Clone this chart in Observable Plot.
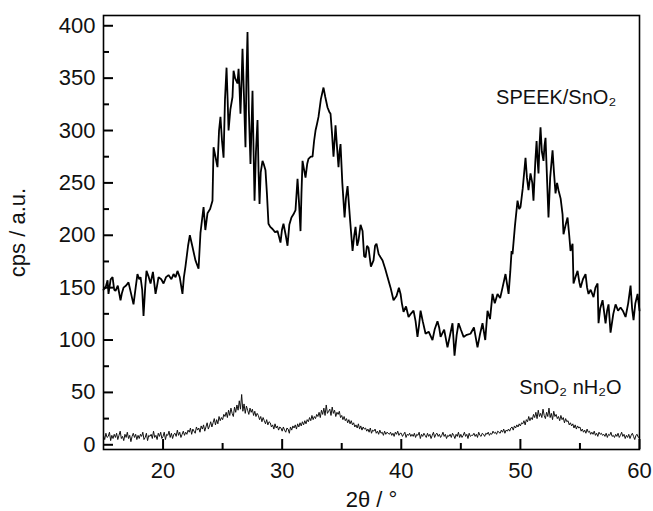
<!DOCTYPE html>
<html>
<head>
<meta charset="utf-8">
<script src="https://cdn.jsdelivr.net/npm/d3@7"></script>
<script src="https://cdn.jsdelivr.net/npm/@observablehq/plot@0.6"></script>
<style>
  html, body { margin: 0; padding: 0; background: #fff; }
  #chart svg { display: block; }
</style>
</head>
<body>
<div id="chart"></div>
<script>
// Upper trace: SPEEK/SnO2 (2θ, cps)
const speekX = [15.00,15.17,15.34,15.42,15.60,15.76,15.90,16.01,16.20,16.43,16.55,16.68,16.90,17.10,17.30,17.52,17.70,17.85,18.00,18.11,18.25,18.36,18.50,18.61,18.80,18.95,19.15,19.37,19.50,19.62,19.85,20.04,20.25,20.46,20.70,20.88,21.05,21.21,21.40,21.63,21.75,21.88,22.10,22.25,22.45,22.72,22.98,23.14,23.40,23.55,23.73,23.95,24.15,24.24,24.40,24.57,24.70,24.82,24.95,25.08,25.20,25.33,25.42,25.50,25.65,25.83,25.92,26.05,26.25,26.34,26.42,26.50,26.60,26.67,26.80,26.92,27.00,27.09,27.20,27.34,27.42,27.51,27.60,27.68,27.80,27.93,28.02,28.10,28.20,28.35,28.45,28.60,28.72,28.85,29.00,29.19,29.40,29.61,29.75,29.86,29.98,30.11,30.30,30.45,30.60,30.78,30.95,31.12,31.29,31.42,31.54,31.62,31.71,31.85,31.96,32.10,32.21,32.40,32.55,32.68,32.80,32.92,33.05,33.25,33.47,33.62,33.81,33.95,34.06,34.18,34.31,34.40,34.48,34.60,34.73,34.82,34.90,35.05,35.24,35.35,35.49,35.70,35.91,36.05,36.16,36.30,36.41,36.58,36.75,36.88,37.00,37.12,37.25,37.45,37.67,37.80,37.92,38.10,38.26,38.43,38.65,38.85,39.10,39.35,39.60,39.80,39.94,40.05,40.19,40.40,40.61,40.80,41.03,41.20,41.36,41.50,41.62,41.80,42.04,42.30,42.62,42.80,43.04,43.18,43.30,43.60,43.88,44.10,44.30,44.47,44.65,44.81,45.00,45.23,45.50,45.81,46.10,46.40,46.60,46.82,47.05,47.24,47.45,47.66,47.85,48.08,48.30,48.50,48.75,49.01,49.15,49.26,49.34,49.55,49.76,49.90,50.01,50.20,50.43,50.55,50.68,50.85,51.00,51.10,51.25,51.36,51.45,51.52,51.60,51.69,51.80,51.94,52.02,52.11,52.25,52.36,52.50,52.70,52.82,52.95,53.08,53.20,53.38,53.54,53.62,53.80,53.96,54.10,54.21,54.38,54.46,54.62,54.80,54.95,55.05,55.25,55.47,55.60,55.72,55.90,56.14,56.30,56.48,56.56,56.70,56.90,57.05,57.15,57.28,57.40,57.57,57.80,57.99,58.20,58.41,58.60,58.83,59.05,59.25,59.38,59.50,59.65,59.84,60.00];
const speekY = [148,150,157,144,158,160,148,147,152,138,145,150,152,155,145,134,150,163,158,160,148,123,150,166,160,154,165,144,152,160,158,154,160,162,158,163,160,166,160,144,160,170,190,200,190,176,168,202,227,205,221,225,233,284,275,265,300,313,290,274,330,360,330,300,320,332,357,350,345,359,340,316,350,378,330,284,350,394,320,268,300,338,280,233,280,310,260,230,260,271,268,262,240,211,208,206,203,204,198,193,205,211,200,190,210,217,220,224,254,230,204,240,271,262,255,268,273,275,275,290,300,306,313,330,341,332,322,318,316,298,275,290,305,285,265,280,287,250,217,235,247,215,185,200,208,190,195,210,204,180,179,190,188,170,176,190,192,182,179,176,168,160,150,138,142,150,144,135,127,132,122,125,128,118,103,115,128,118,106,108,100,110,118,112,103,110,93,105,116,85,105,116,110,103,105,106,112,93,105,116,100,128,120,144,135,144,140,150,163,144,165,185,182,210,233,225,227,245,274,255,243,259,250,233,270,290,270,259,285,303,280,271,285,293,250,217,255,281,260,240,250,243,235,220,201,210,217,200,185,192,154,160,166,155,150,158,163,150,144,148,141,150,154,116,130,138,125,116,128,134,107,125,134,128,131,128,122,135,152,130,119,135,144,128];

// Lower trace: SnO2 nH2O, sampled every 0.1° from 15° to 60°
const hydrateStart = 15, hydrateStep = 0.1;
const hydrateY = [
  9,5,11,7,8,12,4,9,6,10,
  7,11,5,9,13,6,8,4,10,7,
  12,6,9,3,8,11,7,10,5,9,
  6,10,8,12,5,7,11,4,9,8,
  10,6,13,7,9,5,11,8,12,6,
  8,12,5,10,9,13,7,11,6,10,
  11,8,14,9,12,7,10,13,9,12,
  10,14,12,16,10,15,13,11,17,14,
  16,12,18,15,19,13,17,21,15,18,
  22,17,21,25,19,24,20,27,23,26,
  24,29,27,31,26,33,28,35,30,27,
  36,31,38,33,42,34,48,32,39,30,
  37,33,29,35,31,34,28,32,27,30,
  28,24,27,22,26,23,20,24,19,22,
  21,17,19,15,20,16,18,14,17,16,
  13,17,14,12,16,15,11,17,14,18,
  16,19,15,20,17,21,18,22,19,23,
  20,24,22,26,23,28,24,27,25,29,
  27,31,26,33,29,35,28,38,30,32,
  34,28,36,30,33,27,31,29,32,26,
  28,24,27,23,25,21,24,20,23,19,
  21,17,19,16,20,15,18,14,17,15,
  16,13,15,12,16,11,14,13,15,11,
  13,10,14,11,12,9,13,10,12,11,
  10,12,9,11,8,12,10,13,9,11,
  11,8,10,12,7,10,9,11,8,10,
  8,11,7,10,9,12,6,10,8,11,
  9,7,11,8,10,6,9,12,7,10,
  11,8,10,7,9,12,8,10,6,9,
  8,10,7,11,9,6,10,8,12,7,
  10,7,9,12,8,10,6,11,8,9,
  9,11,8,10,7,12,9,8,11,10,
  8,11,10,12,9,11,10,13,11,12,
  10,13,12,11,14,12,15,11,14,13,
  15,13,16,17,14,18,16,19,17,20,
  18,21,20,23,19,24,22,27,23,26,
  24,29,26,31,25,33,27,30,26,34,
  28,25,31,27,35,26,30,24,32,27,
  29,25,27,23,28,24,26,21,25,22,
  23,19,21,18,20,16,19,15,18,16,
  17,13,15,12,14,11,15,12,13,10,
  12,10,13,9,11,8,12,10,11,9,
  10,8,11,7,10,9,12,8,9,7,
  10,8,11,7,9,12,8,10,6,9,
  7,10,6,9,11,8,5,9,10,7,
  8
];

const xTicks = [20, 30, 40, 50, 60];
const xMinorTicks = [25, 35, 45, 55];
const yTicks = [0, 50, 100, 150, 200, 250, 300, 350, 400];
const yMinorTicks = [25, 75, 125, 175, 225, 275, 325, 375];

const annotations = [
  {x: 53.0, y: 331, text: "SPEEK/SnO₂"},
  {x: 54.2, y: 55, text: "SnO₂ nH₂O"}
];

const speek = speekX.map((x, i) => ({x, y: speekY[i]}));
const hydrate = hydrateY.map((y, i) => ({x: hydrateStart + i * hydrateStep, y}));

const font = "'Liberation Sans', Arial, Helvetica, sans-serif";

const W = 653, H = 511;
const mL = 103, mR = 14, mT = 15, mB = 62;
const frameW = W - mL - mR, frameH = H - mT - mB;

const chart = Plot.plot({
  width: W,
  height: H,
  marginLeft: mL,
  marginRight: mR,
  marginTop: mT,
  marginBottom: mB,
  style: {fontFamily: font, fontSize: "22px", background: "#fff"},
  x: {domain: [15, 60]},
  y: {domain: [-4.5, 409.8]},
  marks: [
    Plot.line(hydrate, {x: "x", y: "y", stroke: "#111", strokeWidth: 1.0}),
    Plot.line(speek, {x: "x", y: "y", stroke: "#000", strokeWidth: 1.8, strokeLinejoin: "miter"}),
    Plot.text(annotations, {x: "x", y: "y", text: "text", fontSize: 20, fill: "#111", fontFamily: font}),
    Plot.axisX(xTicks, {anchor: "bottom", tickSize: 0, tickPadding: 13, fontSize: 22, fill: "#111",
      label: "2θ / °", labelAnchor: "center", labelArrow: "none", labelOffset: 57}),
    Plot.axisY(yTicks, {anchor: "left", tickSize: 0, tickPadding: 8, fontSize: 22, fill: "#111",
      label: "cps / a.u.", labelAnchor: "center", labelArrow: "none", labelOffset: 94}),
    Plot.frame({stroke: "#000", strokeWidth: 1.6}),
    // inward ticks, drawn on top
    Plot.tickX(xTicks, {x: d => d, insetTop: frameH - 10, stroke: "#000", strokeWidth: 2}),
    Plot.tickX(xMinorTicks, {x: d => d, insetTop: frameH - 6, stroke: "#000", strokeWidth: 2}),
    Plot.tickY(yTicks, {y: d => d, insetRight: frameW - 10, stroke: "#000", strokeWidth: 2}),
    Plot.tickY(yMinorTicks, {y: d => d, insetRight: frameW - 6, stroke: "#000", strokeWidth: 2})
  ]
});

document.getElementById("chart").appendChild(chart);
</script>
</body>
</html>
